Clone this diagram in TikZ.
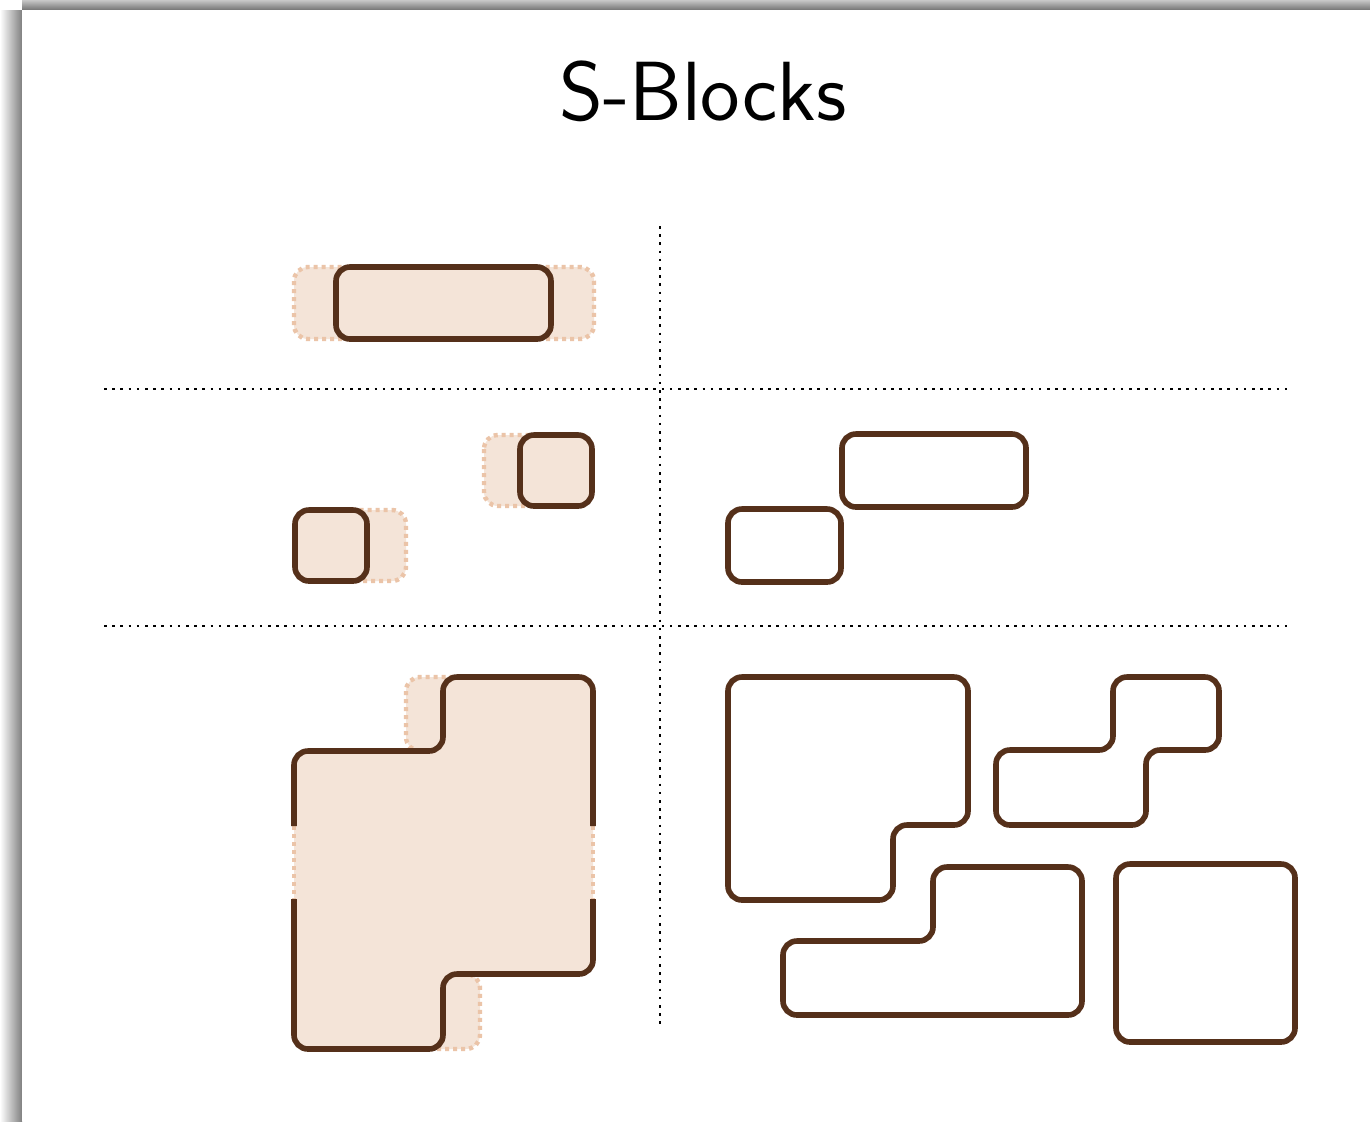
\documentclass[tikz,border=0pt]{standalone}
\usepackage{fontspec}
\usetikzlibrary{calc}
\definecolor{Brown}{HTML}{55301A}
\definecolor{Peach}{HTML}{F4E4D8}
\definecolor{PeachDot}{HTML}{EBC4A8}
\tikzset{
  sblock/.style={draw=Brown, line width=2.8pt, rounded corners=7pt},
  sfilled/.style={sblock, fill=Peach},
  ghost/.style={draw=PeachDot, fill=Peach, line width=2.2pt, dash pattern=on 2pt off 2pt, rounded corners=7pt},
  ghostline/.style={draw=PeachDot, line width=2.2pt, dash pattern=on 2pt off 2pt},
  gridline/.style={draw=black, line width=1.3pt, dash pattern=on 1.3pt off 2.8pt},
  slidetitle/.style={font=\sffamily\fontsize{42}{50}\selectfont, anchor=base},
}

\begin{document}
\begin{tikzpicture}[x=0.5pt, y=-0.5pt]
    \useasboundingbox (0,0) rectangle (1370,1121);
    % page with its shadow
    \shade[left color=white, right color=black!50] (0,10) rectangle (22,1121);
    \shade[top color=black!22, bottom color=black!55] (22,0) rectangle (1370,10);
    \fill[white] (22,10) rectangle (1370,1121);

    \node[slidetitle] (title) at (703,120) {S-Blocks};

    % separators
    \draw[gridline] (104,389) -- (1288,389);
    \draw[gridline] (104,626) -- (1288,626);
    \draw[gridline] (660,226) -- (660,1027);

    % row 1
    \draw[ghost] (294,267) rectangle (594,339);
    \draw[sfilled] (336,267) rectangle (551,339);

    % row 2, left
    \draw[ghost] (484,435) rectangle (580,506);
    \draw[sfilled] (520,435) rectangle (592,506);
    \draw[ghost] (310,510) rectangle (406,581);
    \draw[sfilled] (295,510) rectangle (367,581);

    % row 2, right
    \draw[sblock] (728,509) rectangle (841,582);
    \draw[sblock] (842,434) rectangle (1026,507);

    % row 3, left
    \draw[ghost] (406,677) rectangle (500,751);
    \draw[ghost] (420,974) rectangle (480,1049);
    \fill[Peach, rounded corners=7pt] (294,751) -- (443,751) -- (443,677) -- (593,677)
      -- (593,974) -- (443,974) -- (443,1049) -- (294,1049) -- cycle;
    \draw[ghostline] (294,826) -- (294,899);
    \draw[ghostline] (593,826) -- (593,899);
    \draw[sblock] (294,826) -- (294,751) -- (443,751) -- (443,677) -- (593,677) -- (593,826);
    \draw[sblock] (593,899) -- (593,974) -- (443,974) -- (443,1049) -- (294,1049) -- (294,899);

    % row 3, right
    \draw[sblock] (728,677) -- (968,677) -- (968,825) -- (893,825) -- (893,900) -- (728,900) -- cycle;
    \draw[sblock] (1113,677) -- (1219,677) -- (1219,750) -- (1146,750) -- (1146,825)
      -- (996,825) -- (996,750) -- (1113,750) -- cycle;
    \draw[sblock] (933,867) -- (1082,867) -- (1082,1015) -- (783,1015) -- (783,941) -- (933,941) -- cycle;
    \draw[sblock] (1116,864) rectangle (1295,1042);
  \end{tikzpicture}
\end{document}
